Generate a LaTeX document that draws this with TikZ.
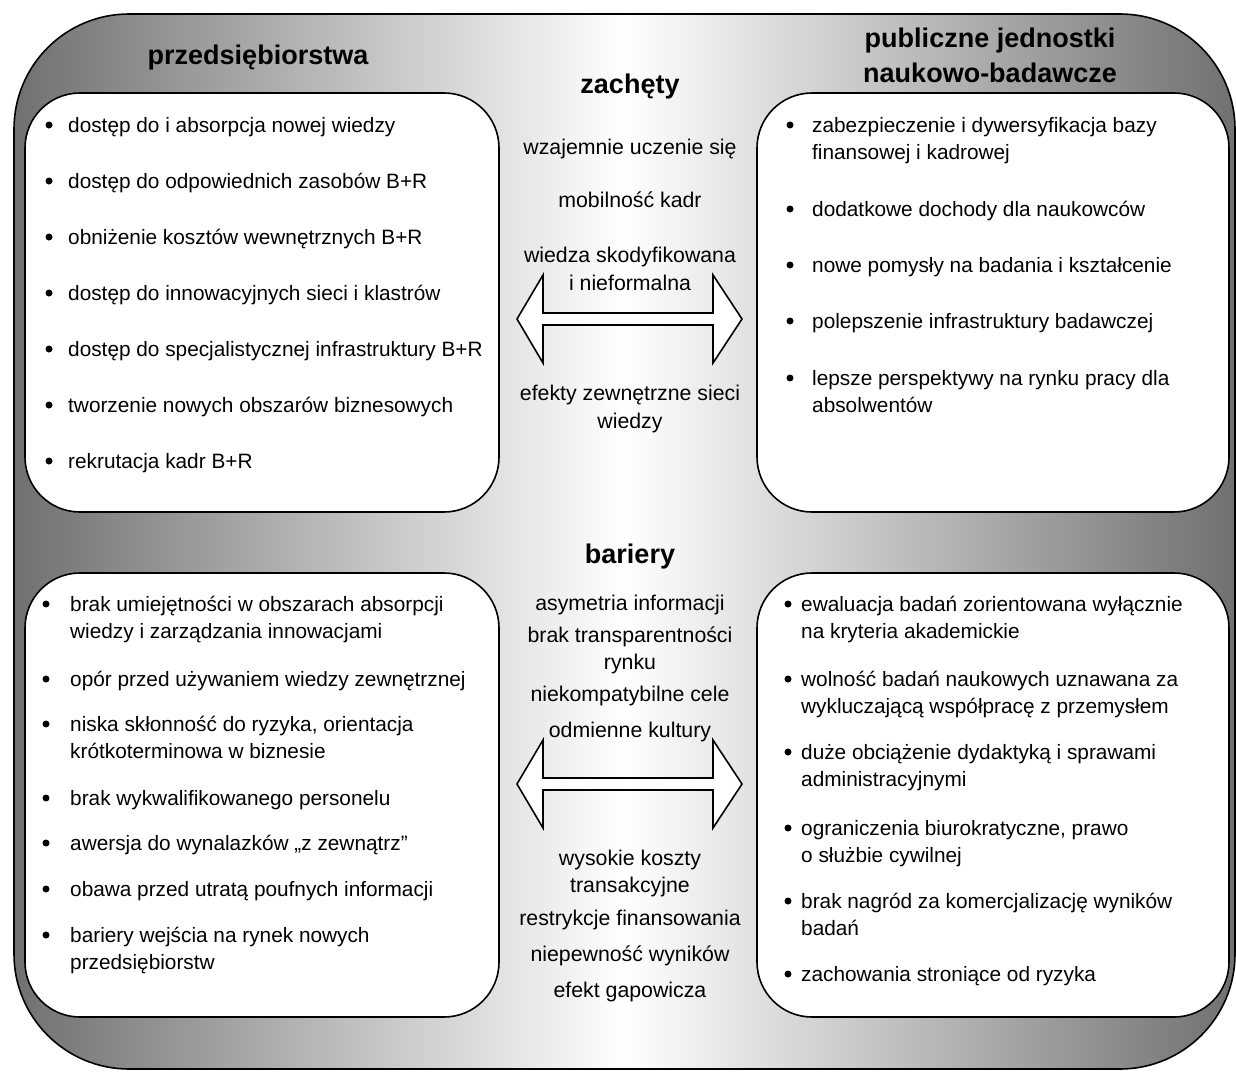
\documentclass[tikz,border=0pt]{standalone}
\usepackage{fontspec}
\setmainfont{Liberation Sans}
\begin{document}
\begin{tikzpicture}[x=1pt,y=-1pt,
  frame/.style={draw=black,line width=1.6pt},
  panel/.style={frame,fill=white,rounded corners=55pt},
  twoway/.style={frame,fill=white,line join=miter},
  head/.style={font=\fontsize{27}{33}\selectfont\bfseries,inner sep=0pt,anchor=base},
  mid/.style={font=\fontsize{21.3}{27}\selectfont,inner sep=0pt,anchor=base},
  txt/.style={font=\fontsize{20.8}{27}\selectfont,inner sep=0pt,anchor=base west},
  dot/.style={circle,fill=black,inner sep=0pt,minimum size=7pt},
]
% a bulleted entry whose baseline is that of its first line
\newcommand\bulletitem[5]{%
  \node[dot] (#1-dot) at (#2,#4-7) {};
  \node[txt] (#1) at (#3,#4) {\begin{tabular}[t]{@{}l@{}}#5\end{tabular}};}
\useasboundingbox (0,0) rectangle (1236,1073);

% outer frame with horizontal grey shading
\path[frame,rounded corners=115pt,left color=black!56,right color=black!56,middle color=white]
  (14,14) rectangle (1235,1069);

% four panels
\path[panel] (25,93) rectangle (499,512);
\path[panel] (757,93) rectangle (1229,512);
\path[panel] (25,573) rectangle (499,1017);
\path[panel] (757,573) rectangle (1229,1017);

% two-way block arrows
\path[twoway] (517,319) -- (543,275) -- (543,313) -- (713,313) -- (713,275) -- (742,319)
  -- (713,363) -- (713,325) -- (543,325) -- (543,363) -- cycle;
\path[twoway] (517,784) -- (543,740) -- (543,778) -- (713,778) -- (713,740) -- (742,784)
  -- (713,828) -- (713,790) -- (543,790) -- (543,828) -- cycle;

% headings
\node[head] (firms) at (258,65) {przedsiębiorstwa};
\node[head] (pub1) at (990,48) {publiczne jednostki};
\node[head] (pub2) at (990,82) {naukowo-badawcze};
\node[head] (incent) at (630,93) {zachęty};
\node[head] (barr) at (630,563) {bariery};

% centre column, incentives
\node[mid] (m1) at (630,154) {wzajemnie uczenie się};
\node[mid] (m2) at (630,207) {mobilność kadr};
\node[mid] (m3) at (630,262) {wiedza skodyfikowana};
\node[mid] (m3b) at (630,290) {i nieformalna};
\node[mid] (m4) at (630,400) {efekty zewnętrzne sieci};
\node[mid] (m4b) at (630,428) {wiedzy};

% centre column, barriers
\node[mid] (b1) at (630,610) {asymetria informacji};
\node[mid] (b2) at (630,642) {brak transparentności};
\node[mid] (b2b) at (630,669) {rynku};
\node[mid] (b3) at (630,701) {niekompatybilne cele};
\node[mid] (b4) at (630,737) {odmienne kultury};
\node[mid] (b5) at (630,865) {wysokie koszty};
\node[mid] (b5b) at (630,892) {transakcyjne};
\node[mid] (b6) at (630,925) {restrykcje finansowania};
\node[mid] (b7) at (630,961) {niepewność wyników};
\node[mid] (b8) at (630,997) {efekt gapowicza};

% firms: incentives
\bulletitem{fi1}{49}{68}{132}{dostęp do i absorpcja nowej wiedzy}
\bulletitem{fi2}{49}{68}{188}{dostęp do odpowiednich zasobów B+R}
\bulletitem{fi3}{49}{68}{244}{obniżenie kosztów wewnętrznych B+R}
\bulletitem{fi4}{49}{68}{300}{dostęp do innowacyjnych sieci i klastrów}
\bulletitem{fi5}{49}{68}{356}{dostęp do specjalistycznej infrastruktury B+R}
\bulletitem{fi6}{49}{68}{412}{tworzenie nowych obszarów biznesowych}
\bulletitem{fi7}{49}{68}{468}{rekrutacja kadr B+R}

% research units: incentives
\bulletitem{ri1}{790}{812}{132}{zabezpieczenie i dywersyfikacja bazy\\finansowej i kadrowej}
\bulletitem{ri2}{790}{812}{216}{dodatkowe dochody dla naukowców}
\bulletitem{ri3}{790}{812}{272}{nowe pomysły na badania i kształcenie}
\bulletitem{ri4}{790}{812}{328}{polepszenie infrastruktury badawczej}
\bulletitem{ri5}{790}{812}{385}{lepsze perspektywy na rynku pracy dla\\absolwentów}

% firms: barriers
\bulletitem{fb1}{46}{70}{611}{brak umiejętności w obszarach absorpcji\\wiedzy i zarządzania innowacjami}
\bulletitem{fb2}{46}{70}{686}{opór przed używaniem wiedzy zewnętrznej}
\bulletitem{fb3}{46}{70}{731}{niska skłonność do ryzyka, orientacja\\krótkoterminowa w biznesie}
\bulletitem{fb4}{46}{70}{805}{brak wykwalifikowanego personelu}
\bulletitem{fb5}{46}{70}{850}{awersja do wynalazków „z zewnątrz”}
\bulletitem{fb6}{46}{70}{896}{obawa przed utratą poufnych informacji}
\bulletitem{fb7}{46}{70}{942}{bariery wejścia na rynek nowych\\przedsiębiorstw}

% research units: barriers
\bulletitem{rb1}{788}{801}{611}{ewaluacja badań zorientowana wyłącznie\\na kryteria akademickie}
\bulletitem{rb2}{788}{801}{686}{wolność badań naukowych uznawana za\\wykluczającą współpracę z przemysłem}
\bulletitem{rb3}{788}{801}{759}{duże obciążenie dydaktyką i sprawami\\administracyjnymi}
\bulletitem{rb4}{788}{801}{835}{ograniczenia biurokratyczne, prawo\\o służbie cywilnej}
\bulletitem{rb5}{788}{801}{908}{brak nagród za komercjalizację wyników\\badań}
\bulletitem{rb6}{788}{801}{981}{zachowania stroniące od ryzyka}
\end{tikzpicture}
\end{document}
